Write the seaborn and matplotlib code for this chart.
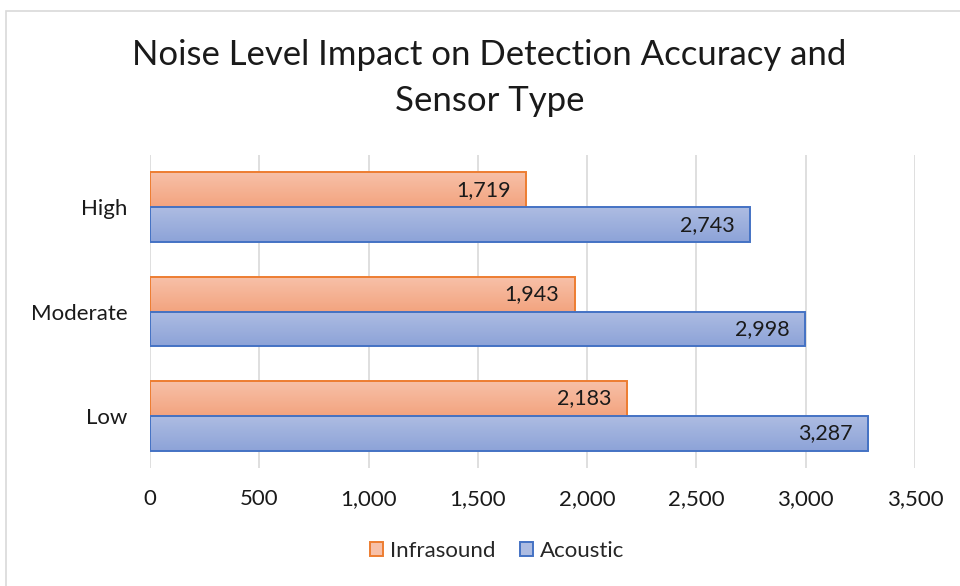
"""
Noise level vs detection accuracy, horizontal grouped bars
"""

import numpy as np
import pandas as pd
import matplotlib.pyplot as plt
import seaborn as sns
from matplotlib.patches import Patch, Rectangle
from matplotlib.ticker import FuncFormatter

# 数据
noise_levels = ["High", "Moderate", "Low"]
sensor_types = ["Infrasound", "Acoustic"]
infrasound = [1719, 1943, 2183]
acoustic = [2743, 2998, 3287]

df = pd.DataFrame({
    "noise": noise_levels * 2,
    "sensor": ["Infrasound"] * 3 + ["Acoustic"] * 3,
    "value": infrasound + acoustic,
})

# 颜色 (top, bottom, edge)
colors = {
    "Infrasound": ("#F7C0A8", "#F3A47F", "#ED7D31"),
    "Acoustic": ("#ADBCE2", "#8DA3D8", "#4472C4"),
}

sns.set_theme(style="white")
plt.rcParams["font.family"] = ["Lato", "DejaVu Sans"]

fig = plt.figure(figsize=(9.6, 5.86), dpi=100)
ax = fig.add_axes([150 / 960, 1 - 468 / 586, 765 / 960, 313 / 586])

sns.barplot(data=df, x="value", y="noise", hue="sensor",
            order=noise_levels, hue_order=sensor_types,
            orient="h", width=0.67, gap=0, legend=False, ax=ax)

ax.set_xlim(0, 3500)
ylim = ax.get_ylim()

# 渐变填充
for sensor, container in zip(sensor_types, ax.containers):
    top, bottom, edge = colors[sensor]
    cmap = plt.matplotlib.colors.LinearSegmentedColormap.from_list(
        sensor, [top, bottom])
    grad = np.linspace(0, 1, 64).reshape(-1, 1)
    for patch, val in zip(container.patches, container.datavalues):
        x, y = patch.get_x(), patch.get_y()
        w, h = patch.get_width(), patch.get_height()
        img = ax.imshow(grad, cmap=cmap, aspect="auto", origin="upper",
                        extent=(x, x + w, y + h, y), zorder=2.5)
        img.set_clip_path(patch)
        patch.set_facecolor("none")
        patch.set_edgecolor(edge)
        patch.set_linewidth(1.4)
        patch.set_zorder(3)
        ax.annotate(f"{val:,.0f}", xy=(x + w, y + h / 2),
                    xytext=(-11, 0), textcoords="offset points",
                    ha="right", va="center", fontsize=15.5,
                    color="#1a1a1a", zorder=4)

ax.set_xlim(0, 3500)
ax.set_ylim(ylim)
ax.set_xticks(np.arange(0, 3501, 500))
ax.xaxis.set_major_formatter(FuncFormatter(lambda v, _: f"{v:,.0f}"))
ax.grid(axis="x", color="#D9D9D9", linewidth=1.2)
ax.set_axisbelow(True)
for s in ax.spines.values():
    s.set_visible(False)
ax.tick_params(axis="both", length=0, labelsize=16, labelcolor="#1a1a1a")
ax.tick_params(axis="x", pad=15)
ax.tick_params(axis="y", pad=16)
ax.set_xlabel("")
ax.set_ylabel("")

fig.text(0.51, 1 - 55 / 586, "Noise Level Impact on Detection Accuracy and",
         ha="center", va="center", fontsize=25, color="#1a1a1a")
fig.text(0.51, 1 - 101 / 586, "Sensor Type",
         ha="center", va="center", fontsize=25, color="#1a1a1a")

handles = [Patch(facecolor=colors[s][0], edgecolor=colors[s][2],
                 linewidth=1.4, label=s) for s in sensor_types]
fig.legend(handles=handles, loc="center", bbox_to_anchor=(0.518, 1 - 551 / 586),
           ncol=2, frameon=False, fontsize=16, handlelength=0.6,
           handleheight=0.6, handletextpad=0.3, columnspacing=1.1)

# 外框
fig.patches.append(Rectangle((6 / 960, -0.1), 1.2, 1 - 11 / 586 + 0.1,
                             transform=fig.transFigure, fill=False,
                             edgecolor="#D9D9D9", linewidth=1.2))

fig.savefig("out.png", dpi=100)
plt.close(fig)
